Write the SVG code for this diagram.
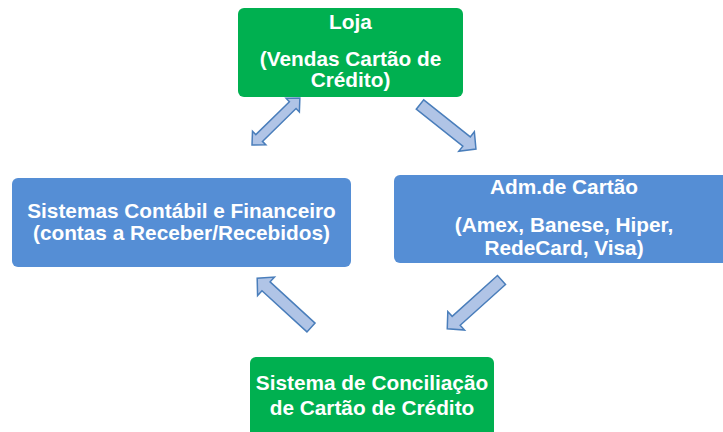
<svg xmlns="http://www.w3.org/2000/svg" width="723" height="432" viewBox="0 0 723 432">
<style>
.green{fill:#00B050}
.blue{fill:#558ED5}
.t{font-family:"Liberation Sans",Arial,sans-serif;font-weight:bold;font-size:20.8px;fill:#fff;text-anchor:middle}
.arr{fill:#B0C4E6;stroke:#4A7EBB;stroke-width:1.5;stroke-linejoin:miter}
</style>
<rect width="723" height="432" fill="#fff"/>
<g id="connectors">
<path class="arr" transform="translate(252,145) rotate(-44.4)" d="M0,0 L10,-9.5 L10,-4.75 L57,-4.75 L57,-9.5 L67,0 L57,9.5 L57,4.75 L10,4.75 L10,9.5 Z"/>
<path class="arr" transform="translate(420,104.5) rotate(38.5)" d="M0,-6 L59.5,-6 L59.5,-12.5 L71.5,0 L59.5,12.5 L59.5,6 L0,6 Z"/>
<path class="arr" transform="translate(501.5,280) rotate(138)" d="M0,-6 L61,-6 L61,-12.5 L73,0 L61,12.5 L61,6 L0,6 Z"/>
<path class="arr" transform="translate(311,327.5) rotate(222.5)" d="M0,-6 L61,-6 L61,-12.5 L73,0 L61,12.5 L61,6 L0,6 Z"/>
</g>
<g id="loja">
<rect class="green" x="238" y="8" width="225" height="89" rx="6"/>
<text class="t" x="350.5" y="28.5">Loja</text>
<text class="t" x="350.5" y="65.5">(Vendas Cartão de</text>
<text class="t" x="350.5" y="87">Crédito)</text>
</g>
<g id="sistemas">
<rect class="blue" x="12" y="178" width="339" height="89" rx="6"/>
<text class="t" x="181.5" y="218">Sistemas Contábil e Financeiro</text>
<text class="t" x="181.5" y="240">(contas a Receber/Recebidos)</text>
</g>
<g id="adm">
<rect class="blue" x="394" y="175" width="336" height="88" rx="6"/>
<text class="t" x="564" y="194">Adm.de Cartão</text>
<text class="t" x="564" y="231.5">(Amex, Banese, Hiper,</text>
<text class="t" x="564" y="254.5">RedeCard, Visa)</text>
</g>
<g id="conciliacao">
<rect class="green" x="250" y="357" width="244" height="85" rx="6"/>
<text class="t" x="372" y="390">Sistema de Conciliação</text>
<text class="t" x="372" y="415">de Cartão de Crédito</text>
</g>
</svg>
